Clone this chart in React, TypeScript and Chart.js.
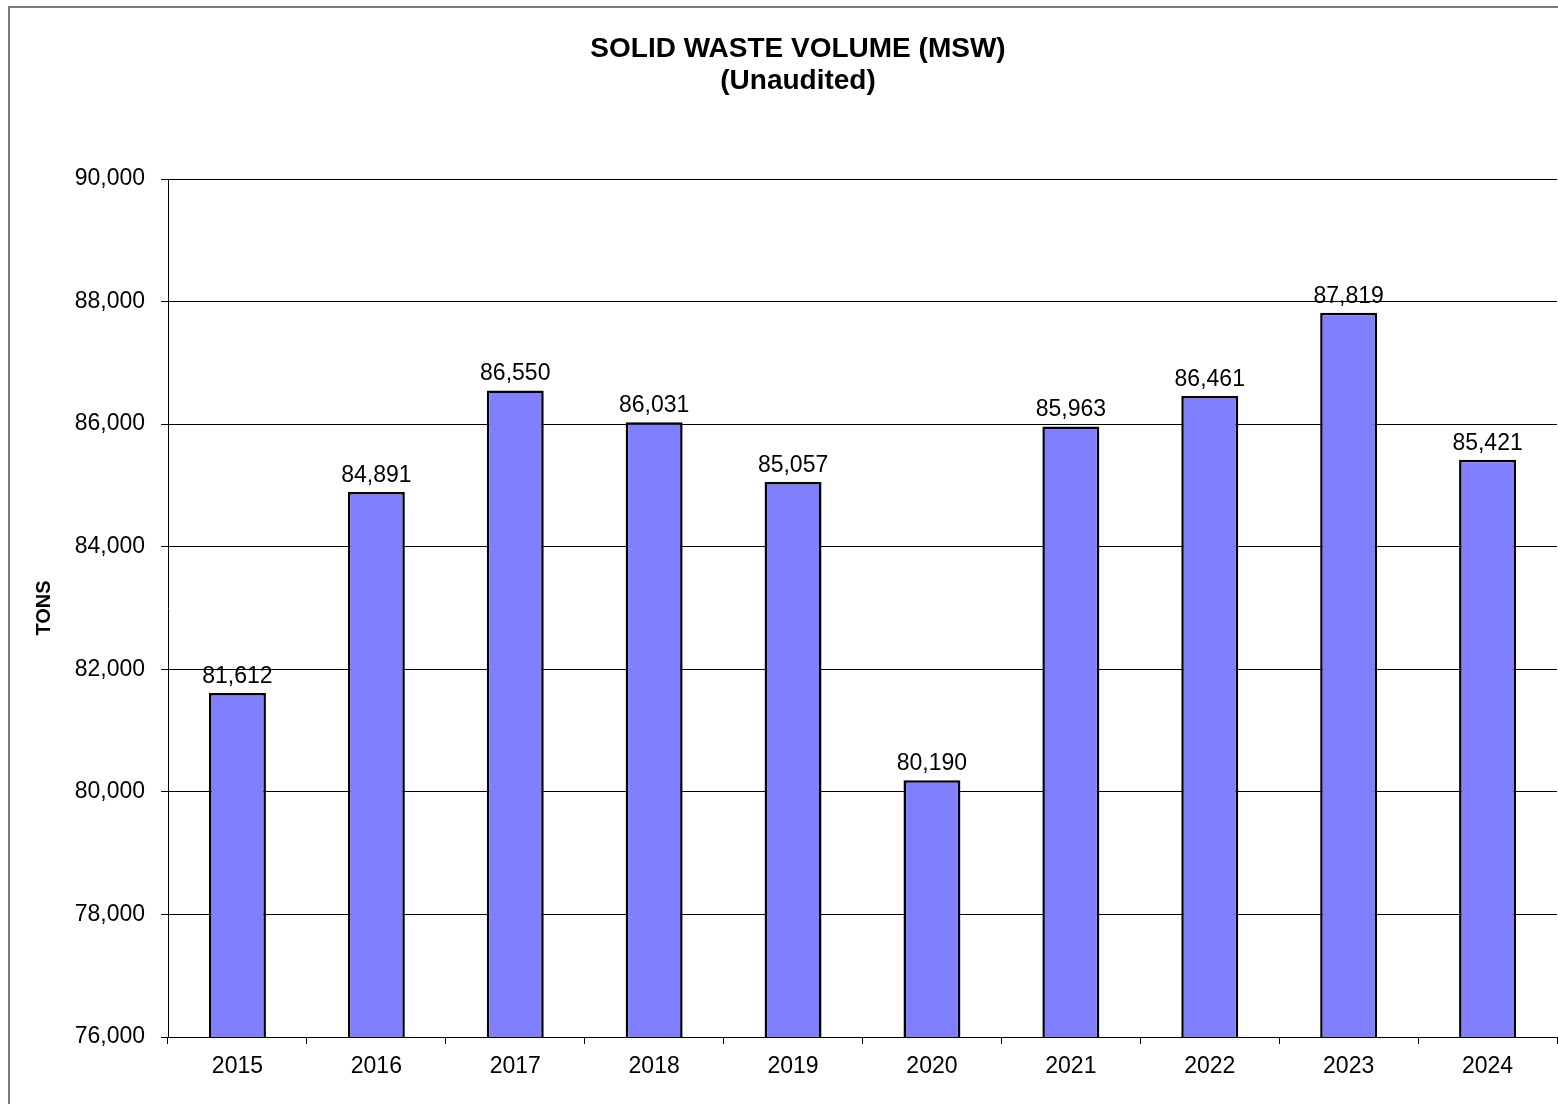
import React, { useEffect, useRef } from 'react';
import { Chart, registerables } from 'chart.js';

Chart.register(...registerables);

// ---- data ----
const years: string[] = ['2015', '2016', '2017', '2018', '2019', '2020', '2021', '2022', '2023', '2024'];
const tons: number[] = [81612, 84891, 86550, 86031, 85057, 80190, 85963, 86461, 87819, 85421];
const yMin = 76000;
const yMax = 90000;
const yStep = 2000;
const titleLines: string[] = ['SOLID WASTE VOLUME (MSW)', '(Unaudited)'];
const yAxisTitle = 'TONS';

const FONT = '"Liberation Sans", Arial, Helvetica, sans-serif';
const fmt = (v: number) => v.toLocaleString('en-US');

export default function App() {
  const ref = useRef<HTMLCanvasElement>(null);

  useEffect(() => {
    if (!ref.current) return;

    const framePlugin = {
      id: 'frame',
      beforeDraw(chart: any) {
        const ctx = chart.ctx;
        ctx.save();
        ctx.fillStyle = '#ffffff';
        ctx.fillRect(0, 0, chart.width, chart.height);
        ctx.strokeStyle = '#7a7a7a';
        ctx.lineWidth = 2;
        ctx.strokeRect(9, 7, chart.width + 50, chart.height + 50);
        ctx.restore();
      },
    };

    const titlePlugin = {
      id: 'titleText',
      afterDraw(chart: any) {
        const ctx = chart.ctx;
        ctx.save();
        ctx.fillStyle = '#000';
        ctx.font = `bold 28px ${FONT}`;
        ctx.textAlign = 'center';
        ctx.textBaseline = 'alphabetic';
        ctx.fillText(titleLines[0], 798, 57);
        ctx.fillText(titleLines[1], 798, 89);
        ctx.restore();
      },
    };

    const valueLabels = {
      id: 'valueLabels',
      afterDatasetsDraw(chart: any) {
        const ctx = chart.ctx;
        const meta = chart.getDatasetMeta(0);
        ctx.save();
        ctx.fillStyle = '#000';
        ctx.font = `23px ${FONT}`;
        ctx.textAlign = 'center';
        ctx.textBaseline = 'alphabetic';
        meta.data.forEach((bar: any, i: number) => {
          ctx.fillText(fmt(tons[i]), bar.x, bar.y - 10);
        });
        ctx.restore();
      },
    };

    const chart = new Chart(ref.current, {
      type: 'bar',
      data: {
        labels: years,
        datasets: [
          {
            data: tons,
            backgroundColor: '#8080FF',
            borderColor: '#000000',
            borderWidth: 2.5,
            borderSkipped: false,
            barPercentage: 0.41,
            categoryPercentage: 1,
          },
        ],
      },
      options: {
        responsive: false,
        animation: false,
        devicePixelRatio: 1,
        layout: { padding: { top: 179, right: 1, bottom: 0, left: 0 } },
        plugins: {
          legend: { display: false },
          tooltip: { enabled: false },
          title: { display: false },
        },
        scales: {
          x: {
            grid: {
              drawOnChartArea: false,
              drawTicks: true,
              tickLength: 7,
              color: '#000',
              offset: true,
            },
            border: { display: true, color: '#000', width: 1 },
            ticks: {
              color: '#000',
              font: { family: FONT, size: 23 },
              padding: 9,
              maxRotation: 0,
              autoSkip: false,
            },
            afterFit(s: any) {
              s.height = 67;
            },
          },
          y: {
            min: yMin,
            max: yMax,
            ticks: {
              stepSize: yStep,
              color: '#000',
              font: { family: FONT, size: 23 },
              padding: 16,
              callback: (v: any) => fmt(Number(v)),
            },
            grid: { color: '#000', lineWidth: 1, tickLength: 7 },
            border: { display: true, color: '#000', width: 1 },
            title: {
              display: true,
              text: yAxisTitle,
              color: '#000',
              font: { family: FONT, size: 20, weight: 'bold' },
              padding: { top: 32, bottom: 0 },
            },
            afterFit(s: any) {
              s.width = 168;
            },
          },
        },
      },
      plugins: [framePlugin, titlePlugin, valueLabels],
    } as any);

    return () => chart.destroy();
  }, []);

  return (
    <div style={{ position: 'absolute', left: 0, top: 0, width: 1558, height: 1104, overflow: 'hidden' }}>
      <canvas ref={ref} width={1558} height={1104} style={{ display: 'block' }} />
    </div>
  );
}
